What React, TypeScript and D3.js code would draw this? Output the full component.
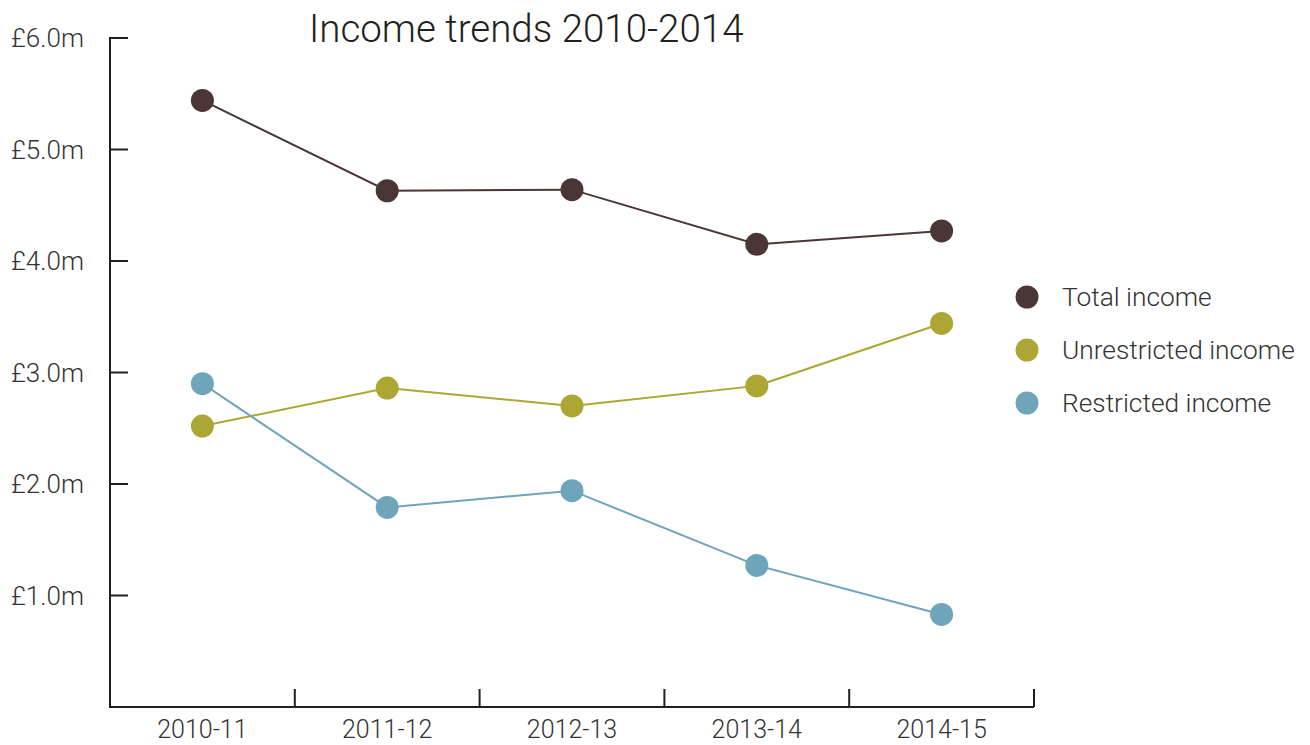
import React from "react";
import * as d3 from "d3";

const categories = ["2010-11", "2011-12", "2012-13", "2013-14", "2014-15"];
const totalIncome = [5.44, 4.63, 4.64, 4.15, 4.27];
const unrestrictedIncome = [2.52, 2.86, 2.70, 2.88, 3.44];
const restrictedIncome = [2.90, 1.79, 1.94, 1.27, 0.83];
const yTicks = [1, 2, 3, 4, 5, 6];
const seriesNames = ["Total income", "Unrestricted income", "Restricted income"];
const seriesColors = ["#4a3636", "#aca634", "#6ea5ba"];

export default function App() {
  const W = 1310, H = 745;
  const x0 = 110, x1 = 1034, yTop = 38, yBot = 707;
  const x = d3.scaleBand<string>().domain(categories).range([x0, x1]);
  const y = d3.scaleLinear().domain([0, 6]).range([yBot, yTop]);
  const series = [totalIncome, unrestrictedIncome, restrictedIncome];
  const line = d3.line<number>()
    .x((_, i) => (x(categories[i]) as number) + x.bandwidth() / 2)
    .y((d) => y(d));
  const font = "Roboto, 'Liberation Sans', sans-serif";
  const boundaries = categories.slice(1).map((c) => x(c) as number).concat([x1]);
  return (
    <svg width={W} height={H} style={{ position: "absolute", left: 0, top: 0, background: "#fff" }} fontFamily={font}>
      <text x={309} y={42} fontSize={38.5} fill="#231f20" fontWeight={300}>Income trends 2010-2014</text>
      {/* y axis */}
      <line x1={x0} x2={x0} y1={yTop - 1} y2={yBot + 1} stroke="#231f20" strokeWidth={2} />
      {yTicks.map((t) => (
        <g key={t}>
          <line x1={x0} x2={x0 + 18} y1={y(t)} y2={y(t)} stroke="#231f20" strokeWidth={2} />
          <text x={84} y={y(t)} dy="0.35em" textAnchor="end" fontSize={26} fill="#333" fontWeight={300}>
            {"£" + t.toFixed(1) + "m"}
          </text>
        </g>
      ))}
      {/* x axis */}
      <line x1={x0 - 1} x2={x1} y1={yBot} y2={yBot} stroke="#231f20" strokeWidth={2} />
      {boundaries.map((b, i) => (
        <line key={i} x1={b} x2={b} y1={yBot} y2={yBot - 18} stroke="#231f20" strokeWidth={2} />
      ))}
      {categories.map((c) => (
        <text key={c} x={(x(c) as number) + x.bandwidth() / 2} y={738} textAnchor="middle" fontSize={25} fill="#333" fontWeight={300}>
          {c}
        </text>
      ))}
      {/* series */}
      {series.map((s, si) => (
        <g key={si}>
          <path d={line(s) || ""} fill="none" stroke={seriesColors[si]} strokeWidth={2} />
          {s.map((v, i) => (
            <circle key={i} cx={(x(categories[i]) as number) + x.bandwidth() / 2} cy={y(v)} r={11.5} fill={seriesColors[si]} />
          ))}
        </g>
      ))}
      {/* legend */}
      {seriesNames.map((n, i) => (
        <g key={n}>
          <circle cx={1027} cy={297 + i * 53} r={11.5} fill={seriesColors[i]} />
          <text x={1062} y={297 + i * 53} dy="0.35em" fontSize={26.3} fill="#333" fontWeight={300}>{n}</text>
        </g>
      ))}
    </svg>
  );
}
